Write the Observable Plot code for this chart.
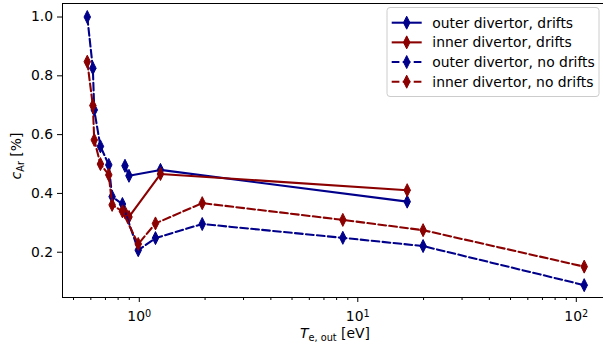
<!DOCTYPE html>
<html><head><meta charset="utf-8">
<script src="https://cdn.jsdelivr.net/npm/d3@7"></script>
<script src="https://cdn.jsdelivr.net/npm/@observablehq/plot@0.6"></script>
<style>
html,body{margin:0;padding:0;background:#fff;overflow:hidden}
#chart{width:603px;height:347px;overflow:hidden;position:relative}
#chart svg{max-width:none !important;width:610px;height:347px}
</style></head><body><div id="chart"></div>
<script>
// ---- data ----
const teDrifts = [0.860, 0.897, 1.250, 16.83];
const outerDrifts = [0.494, 0.460, 0.480, 0.372];
const innerDrifts = [0.336, 0.320, 0.466, 0.411];
const teNoDrifts = [0.578, 0.613, 0.622, 0.664, 0.725, 0.751, 0.837, 0.989, 1.186, 1.941, 8.54, 19.9, 108.7];
const outerNoDrifts = [1.000, 0.826, 0.684, 0.560, 0.497, 0.389, 0.364, 0.207, 0.248, 0.296, 0.249, 0.221, 0.088];
const innerNoDrifts = [0.848, 0.699, 0.582, 0.500, 0.463, 0.361, 0.339, 0.228, 0.298, 0.367, 0.310, 0.275, 0.151];

const seriesNames = ["outer divertor, drifts", "inner divertor, drifts", "outer divertor, no drifts", "inner divertor, no drifts"];
const seriesColors = ["#00008b", "#8b0000", "#00008b", "#8b0000"];
const seriesDashed = [false, false, true, true];

const yTicks = [0.2, 0.4, 0.6, 0.8, 1.0];
const xMajorTicks = [1, 10, 100];
const xMinorTicks = [0.5, 0.6, 0.7, 0.8, 0.9, 2, 3, 4, 5, 6, 7, 8, 9, 20, 30, 40, 50, 60, 70, 80, 90];

// ---- build tables ----
const seriesX = [teDrifts, teDrifts, teNoDrifts, teNoDrifts];
const seriesY = [outerDrifts, innerDrifts, outerNoDrifts, innerNoDrifts];
const tables = seriesNames.map((name, i) =>
  seriesX[i].map((te, j) => ({te, c: seriesY[i][j], name})));

const FS = 13.9;
const thinDiamond = {
  draw(ctx, size) {
    const r = Math.sqrt(size / Math.PI);
    const h = r, w = r * 0.5;
    ctx.moveTo(0, -h); ctx.lineTo(w, 0); ctx.lineTo(0, h); ctx.lineTo(-w, 0); ctx.closePath();
  }
};
const DASH = "7.7,3.3";

const marks = [];
tables.forEach((data, i) => {
  marks.push(Plot.line(data, {x: "te", y: "c", stroke: seriesColors[i], strokeWidth: 2.08,
    strokeDasharray: seriesDashed[i] ? DASH : null}));
  marks.push(Plot.dot(data, {x: "te", y: "c", symbol: thinDiamond, r: 6.5,
    fill: seriesColors[i], stroke: seriesColors[i], strokeWidth: 1}));
});

const chart = Plot.plot({
  width: 610, height: 347,
  marginLeft: 62, marginRight: 2, marginTop: 3, marginBottom: 50,
  style: {fontFamily: "DejaVu Sans", fontSize: FS + "px", color: "black", background: "white", maxWidth: "none"},
  x: {type: "log", domain: [0.4452, 140.4], axis: null},
  y: {domain: [0.046, 1.046], axis: null},
  marks: [
    ...marks,
    Plot.axisY(yTicks, {tickSize: 5, tickPadding: 4.5, tickFormat: d => d.toFixed(1), fontSize: FS, label: null, stroke: "black"}),
    Plot.axisX(xMinorTicks, {tickSize: 3, tickFormat: () => "", label: null, stroke: "black"}),
    Plot.axisX(xMajorTicks, {tickSize: 5, tickPadding: 8.5, tickFormat: d => "10^" + Math.round(Math.log10(d)), fontSize: FS, label: null, stroke: "black"}),
    Plot.frame({stroke: "black", strokeWidth: 1})
  ]
});
document.getElementById("chart").appendChild(chart);

const svg = d3.select(chart);
// superscript tick labels
svg.selectAll("text").each(function() {
  const t = this.textContent;
  const m = /^10\^(-?\d+)$/.exec(t);
  if (m) {
    const sel = d3.select(this);
    sel.text("10");
    sel.append("tspan").attr("dy", "-0.45em").attr("font-size", "0.7em").text(m[1]);
  }
});

// axis labels
const yl = svg.append("text")
  .attr("transform", "translate(21,156) rotate(-90)")
  .attr("text-anchor", "middle").attr("font-size", FS).attr("fill", "black");
yl.append("tspan").attr("font-style", "italic").text("c");
yl.append("tspan").attr("font-size", "0.7em").attr("dy", "0.3em").text("Ar");
yl.append("tspan").attr("dy", "-0.21em").text(" [%]");

const xl = svg.append("text")
  .attr("x", 335).attr("y", 338)
  .attr("text-anchor", "middle").attr("font-size", FS).attr("fill", "black");
xl.append("tspan").attr("font-style", "italic").text("T");
xl.append("tspan").attr("font-size", "0.7em").attr("dy", "0.3em").text("e, out");
xl.append("tspan").attr("dy", "-0.21em").text(" [eV]");

// legend
const lg = svg.append("g").attr("text-anchor", "start");
lg.append("rect").attr("x", 387).attr("y", 7.5).attr("width", 212).attr("height", 89)
  .attr("rx", 3).attr("fill", "white").attr("fill-opacity", 0.8).attr("stroke", "#cccccc");
seriesNames.forEach((name, i) => {
  const y = 22.7 + i * 19.67;
  lg.append("path").attr("d", `M391.7,${y}H421.7`).attr("fill", "none")
    .attr("stroke", seriesColors[i]).attr("stroke-width", 2.08)
    .attr("stroke-dasharray", seriesDashed[i] ? DASH : null);
  const p = d3.path();
  thinDiamond.draw(p, 6.5 * 6.5 * Math.PI);
  lg.append("path").attr("d", p.toString()).attr("transform", `translate(406.7,${y})`)
    .attr("fill", seriesColors[i]).attr("stroke", seriesColors[i]);
  lg.append("text").attr("x", 432.3).attr("y", y).attr("dy", "0.35em")
    .attr("text-anchor", "start")
    .attr("font-size", FS).attr("fill", "black").text(name);
});
</script>
</body></html>
